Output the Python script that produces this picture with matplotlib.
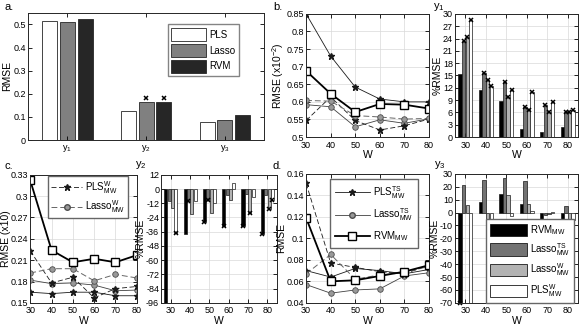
import numpy as np
import matplotlib
matplotlib.use("Agg")
import matplotlib.pyplot as plt
from matplotlib.patches import Patch
from matplotlib.lines import Line2D

plt.rcParams['font.family'] = ['Liberation Sans', 'DejaVu Sans']
plt.rcParams['font.size'] = 7
plt.rcParams['mathtext.fontset'] = 'custom'
plt.rcParams['mathtext.rm'] = 'Liberation Sans'
plt.rcParams['mathtext.it'] = 'Liberation Sans'

# ---- data ----
outputs = ['y$_1$', 'y$_2$', 'y$_3$']
a_pls = [0.515, 0.125, 0.080]
a_lasso = [0.512, 0.163, 0.085]
a_rvm = [0.525, 0.163, 0.107]

W = [30, 40, 50, 60, 70, 80]

# b: y1 RMSE (x10^-2)
b_pls_ts = [0.850, 0.730, 0.642, 0.608, 0.600, 0.600]
b_pls_w = [0.547, 0.614, 0.547, 0.520, 0.532, 0.551]
b_lasso_ts = [0.592, 0.586, 0.529, 0.549, 0.539, 0.552]
b_lasso_w = [0.604, 0.602, 0.561, 0.557, 0.551, 0.553]
b_rvm = [0.688, 0.623, 0.571, 0.594, 0.592, 0.581]
# b: %RMSE
b_pct_rvm = [15.4, 11.5, 8.7, 2.0, 1.2, 2.5]
b_pct_lasso_ts = [23.4, 15.5, 13.4, 7.3, 7.8, 6.2]
b_pct_lasso_w = [24.4, 13.8, 9.7, 6.5, 6.2, 6.0]
b_pct_pls_w = [28.6, 12.5, 11.4, 11.0, 8.6, 6.6]

# c: y2 RMSE (x10)
c_pls_ts = [0.165, 0.163, 0.165, 0.165, 0.160, 0.160]
c_pls_w = [0.223, 0.178, 0.186, 0.157, 0.170, 0.173]
c_lasso_ts = [0.182, 0.177, 0.178, 0.175, 0.167, 0.168]
c_lasso_w = [0.192, 0.198, 0.198, 0.181, 0.190, 0.185]
c_rvm = [0.322, 0.224, 0.207, 0.212, 0.207, 0.217]
c_pct_rvm = [-96, -38, -28, -31, -31, -38]
c_pct_lasso_ts = [-10, -10, -9, -5, -4, -5]
c_pct_lasso_w = [-16, -21, -20, -9, -20.5, -17]
c_pct_pls_w = [-37, -10, -12, 5, -6.5, -9.5]
c_marked = [[3], [1], [0, 1], [0], [0, 2], [0, 2, 3]]

# d: y3 RMSE
d_pls_ts = [0.070, 0.064, 0.072, 0.070, 0.067, 0.071]
d_pls_w = [0.151, 0.077, 0.073, 0.069, 0.067, 0.075]
d_lasso_ts = [0.057, 0.049, 0.052, 0.053, 0.065, 0.068]
d_lasso_w = [0.067, 0.085, 0.062, 0.066, 0.068, 0.074]
d_rvm = [0.119, 0.060, 0.061, 0.065, 0.069, 0.075]
d_pct_rvm = [-70, 7.8, 14.5, 6.5, -5.5, -6]
d_pct_lasso_ts = [21, 25, 26.5, 24.5, -2, 5]
d_pct_lasso_w = [6, -32, 13.5, 6.5, -1, -6]
d_pct_pls_w = [-70, -19, -3, 1.2, 0.3, -5.5]

BLACK, DGRAY, LGRAY, WHITE = '0.0', '0.45', '0.7', '1.0'


def style(ax, grid=True):
    ax.tick_params(direction='in', top=True, right=True, length=3, width=0.6, pad=1.5, labelsize=6.5)
    ax.tick_params(axis='x', pad=2.5)
    for s in ax.spines.values():
        s.set_linewidth(0.7)
        s.set_color('0.15')
    if grid:
        ax.grid(True, color='0.85', lw=0.5)
        ax.set_axisbelow(True)


def fmt_ticks(ax, ticks):
    ax.set_yticks(ticks)
    ax.set_yticklabels(['%g' % round(t, 4) for t in ticks])


def lines(ax, pls_ts, pls_w, lasso_ts, lasso_w, rvm):
    ax.plot(W, pls_ts, '-', color='0.1', lw=0.6, marker='*', ms=5, mfc='0.1', mec='0.1')
    ax.plot(W, lasso_ts, '-', color='0.25', lw=0.6, marker='o', ms=4, mfc='0.6', mec='0.3', mew=0.6)
    ax.plot(W, pls_w, color='0.1', lw=0.6, ls=(0, (6, 3)), marker='*', ms=5, mfc='0.1', mec='0.1')
    ax.plot(W, lasso_w, color='0.4', lw=0.7, ls=(0, (6, 3)), marker='o', ms=4, mfc='0.6', mec='0.3', mew=0.6)
    ax.plot(W, rvm, '-', color='0.0', lw=1.3, marker='s', ms=6, mfc='white', mec='0.0', mew=1.0)
    ax.set_xlim(30, 80)
    ax.set_xticks(W)
    ax.set_xlabel('W', fontsize=7.5, labelpad=0.5)


def bars(ax, series, marked=None):
    x = np.array(W, dtype=float)
    cols = [BLACK, DGRAY, LGRAY, WHITE]
    offs = np.array([-1.5, -0.5, 0.5, 1.5]) * 1.75
    for k, (vals, c) in enumerate(zip(series, cols)):
        ax.bar(x + offs[k], vals, width=1.6, color=c, edgecolor='0.1', lw=0.5)
    if marked is not None:
        for g, ks in enumerate(marked):
            for k in ks:
                ax.plot(x[g] + offs[k], series[k][g], 'x', color='0.0', ms=3.5, mew=1.1, clip_on=False)
    ax.set_xlim(25, 85)
    ax.set_xticks(W)
    ax.set_xlabel('W', fontsize=7.5, labelpad=0.5)
    ax.set_ylabel('%RMSE', fontsize=7.5, labelpad=0)


fig = plt.figure(figsize=(5.82, 3.31), dpi=100)

# ---- a ----
ax = fig.add_axes([0.048, 0.577, 0.406, 0.384])
xa = np.arange(1, 4)
ax.bar(xa - 0.225, a_pls, 0.19, color=WHITE, edgecolor='0.15', lw=0.6, label='PLS')
ax.bar(xa, a_lasso, 0.19, color='0.5', edgecolor='0.15', lw=0.6, label='Lasso')
ax.bar(xa + 0.225, a_rvm, 0.19, color='0.15', edgecolor='0.15', lw=0.6, label='RVM')
ax.plot([2, 2.225], [a_lasso[1] + 0.018, a_rvm[1] + 0.018], 'x', color='0.0', ms=3.5, mew=1.1, ls='none')
ax.set_xlim(0.5, 3.5)
ax.set_ylim(0, 0.55)
ax.set_xticks(xa)
ax.set_xticklabels(outputs)
fmt_ticks(ax, [0, 0.1, 0.2, 0.3, 0.4, 0.5])
ax.set_ylabel('RMSE', fontsize=7.5, labelpad=1)
style(ax, grid=False)
leg = ax.legend(loc='upper right', bbox_to_anchor=(0.895, 0.91), handlelength=3.6, handleheight=1.6,
                fontsize=7, fancybox=False, edgecolor='0.4', borderpad=0.4, labelspacing=0.35,
                handletextpad=0.3, borderaxespad=0)
leg.get_frame().set_linewidth(1.0)

# ---- b ----
ax = fig.add_axes([0.526, 0.586, 0.211, 0.372])
lines(ax, b_pls_ts, b_pls_w, b_lasso_ts, b_lasso_w, b_rvm)
ax.set_ylim(0.5, 0.85)
fmt_ticks(ax, [0.5, 0.55, 0.6, 0.65, 0.7, 0.75, 0.8, 0.85])
ax.set_ylabel('RMSE (x10$^{-2}$)', fontsize=7.5, labelpad=0)
style(ax)

ax = fig.add_axes([0.782, 0.586, 0.211, 0.372])
bars(ax, [b_pct_rvm, b_pct_lasso_ts, b_pct_lasso_w, b_pct_pls_w], [[1, 2, 3]] * 6)
ax.set_ylim(0, 30)
fmt_ticks(ax, list(range(0, 31, 3)))
style(ax)

# ---- c ----
ax = fig.add_axes([0.052, 0.085, 0.183, 0.387])
lines(ax, c_pls_ts, c_pls_w, c_lasso_ts, c_lasso_w, c_rvm)
ax.set_ylim(0.15, 0.33)
fmt_ticks(ax, [0.15, 0.18, 0.21, 0.24, 0.27, 0.3, 0.33])
ax.set_ylabel('RMSE (x10)', fontsize=7.5, labelpad=0)
style(ax)
hc = [Line2D([], [], color='0.1', lw=0.6, ls=(0, (6, 3)), marker='*', ms=5, mfc='0.1', mec='0.1'),
      Line2D([], [], color='0.4', lw=0.7, ls=(0, (6, 3)), marker='o', ms=4, mfc='0.6', mec='0.3')]
leg = ax.legend(hc, ['PLS$^{W}_{MW}$', 'Lasso$^{W}_{MW}$'], loc='upper right', bbox_to_anchor=(0.92, 0.99),
                fontsize=7, fancybox=False, edgecolor='0.4', handlelength=3.2, borderpad=0.3,
                labelspacing=0.3, handletextpad=0.3, borderaxespad=0, framealpha=1)
leg.get_frame().set_linewidth(1.0)

ax = fig.add_axes([0.277, 0.085, 0.199, 0.387])
c_series = [c_pct_rvm, c_pct_lasso_ts, c_pct_lasso_w, c_pct_pls_w]
bars(ax, c_series, c_marked)
ax.set_ylim(-96, 12)
fmt_ticks(ax, list(range(-96, 13, 12)))
style(ax)

# ---- d ----
ax = fig.add_axes([0.526, 0.085, 0.211, 0.390])
lines(ax, d_pls_ts, d_pls_w, d_lasso_ts, d_lasso_w, d_rvm)
ax.set_ylim(0.04, 0.16)
fmt_ticks(ax, [0.04, 0.06, 0.08, 0.1, 0.12, 0.14, 0.16])
ax.set_ylabel('RMSE', fontsize=7.5, labelpad=0)
style(ax)
hd = [Line2D([], [], color='0.1', lw=0.6, marker='*', ms=5, mfc='0.1', mec='0.1'),
      Line2D([], [], color='0.25', lw=0.6, marker='o', ms=4, mfc='0.6', mec='0.3'),
      Line2D([], [], color='0.0', lw=1.3, marker='s', ms=6, mfc='white', mec='0.0')]
leg = ax.legend(hd, ['PLS$^{TS}_{MW}$', 'Lasso$^{TS}_{MW}$', 'RVM$_{MW}$'], loc='upper right',
                bbox_to_anchor=(0.91, 0.96), fontsize=7, fancybox=False, edgecolor='0.4',
                handlelength=3.6, borderpad=0.5, labelspacing=0.6, handletextpad=0.3,
                borderaxespad=0, framealpha=1)
leg.get_frame().set_linewidth(1.0)

ax = fig.add_axes([0.782, 0.085, 0.211, 0.390])
bars(ax, [d_pct_rvm, d_pct_lasso_ts, d_pct_lasso_w, d_pct_pls_w], [[0]] + [[]] * 5)
ax.set_ylim(-70, 30)
fmt_ticks(ax, list(range(-70, 31, 10)))
style(ax)
hp = [Patch(facecolor=c, edgecolor='0.1', lw=0.6) for c in [BLACK, DGRAY, LGRAY, WHITE]]
leg = ax.legend(hp, ['RVM$_{MW}$', 'Lasso$^{TS}_{MW}$', 'Lasso$^{W}_{MW}$', 'PLS$^{W}_{MW}$'],
                loc='lower right', bbox_to_anchor=(0.97, 0.0), fontsize=7, fancybox=False,
                edgecolor='0.4', handlelength=3.8, handleheight=1.6, borderpad=0.4, labelspacing=0.4,
                handletextpad=0.3, borderaxespad=0, framealpha=1)
leg.get_frame().set_linewidth(1.0)

# ---- panel letters and output labels ----
fig.text(0.008, 0.978, 'a.', fontsize=8, va='center')
fig.text(0.469, 0.978, 'b.', fontsize=8, va='center')
fig.text(0.008, 0.498, 'c.', fontsize=8, va='center')
fig.text(0.469, 0.498, 'd.', fontsize=8, va='center')
fig.text(0.744, 0.98, 'y$_1$', fontsize=8, va='center')
fig.text(0.232, 0.502, 'y$_2$', fontsize=8, va='center')
fig.text(0.745, 0.502, 'y$_3$', fontsize=8, va='center')

fig.savefig('out.png', dpi=100)
